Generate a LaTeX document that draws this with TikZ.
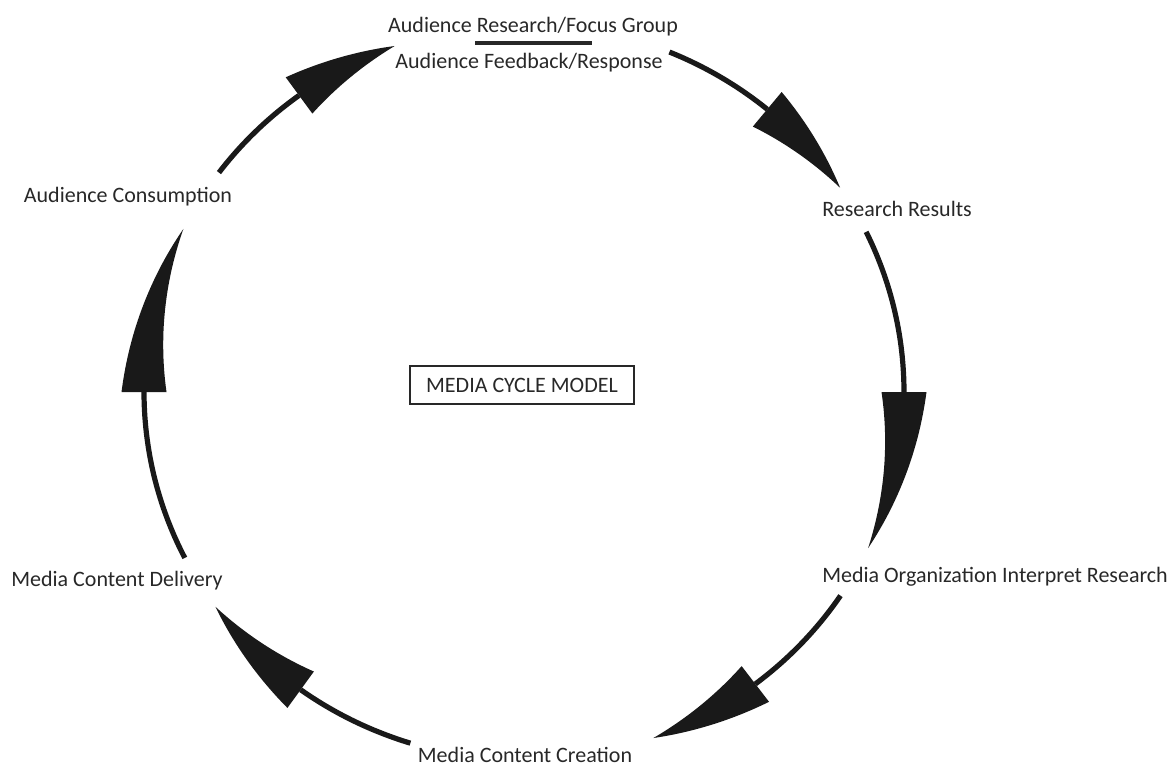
\documentclass[tikz,border=0pt]{standalone}
\usepackage{fontspec}
\setmainfont{Carlito}
\definecolor{labelgray}{RGB}{40,40,40}

\begin{document}
\begin{tikzpicture}[x=0.5pt, y=-0.5pt, every node/.style={text=labelgray, inner sep=1pt, font=\fontsize{11}{13}\selectfont}]
  \useasboundingbox (0,0) rectangle (1170,767);
  \node (focus) at (533,27) {Audience Research/Focus Group};
  \node (feedback) at (529,63) {Audience Feedback/Response};
  \draw[line width=2.3pt, labelgray] (475,43) -- (592,43);
  \node (results) at (897,209) {Research Results};
  \node (interpret) at (995,577) {Media Organization Interpret Research};
  \node (creation) at (525,755) {Media Content Creation};
  \node (delivery) at (117,581) {Media Content Delivery};
  \node (consumption) at (128,197) {Audience Consumption};
  \node[draw=labelgray, line width=0.9pt, minimum width=112pt, minimum height=19pt] (model) at (522,385) {MEDIA CYCLE MODEL};
  \foreach \s/\b/\e in {143.4/126.3/109.9, 67.5/50.2/33.7, 25.8/0/-25.1, -33.6/-52.5/-70.1, 252.6/234/215.7, 206.8/180/153.7} {
    \draw[line width=2.6pt, black!90] plot[domain=\s:\b, samples=30, variable=\t] ({524+380*cos(\t)}, {392-368*sin(\t)});
    \fill[black!90] plot[domain=\b:\e, samples=30, variable=\t] ({524+(380+22.5*(\t-\e)/(\b-\e))*cos(\t)}, {392-(368+22.5*(\t-\e)/(\b-\e))*sin(\t)})
      -- plot[domain=\e:\b, samples=30, variable=\t] ({524+(380-22.5*(\t-\e)/(\b-\e))*cos(\t)}, {392-(368-22.5*(\t-\e)/(\b-\e))*sin(\t)}) -- cycle;
  }
\end{tikzpicture}
\end{document}
